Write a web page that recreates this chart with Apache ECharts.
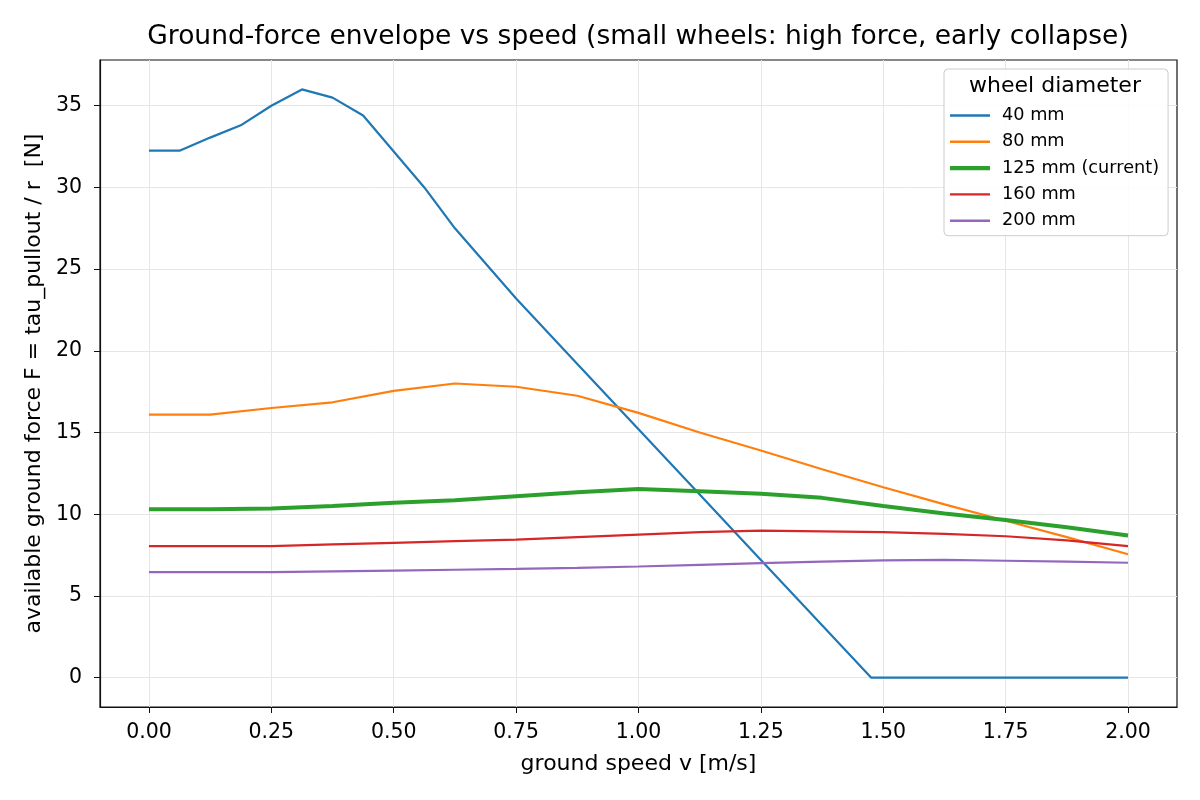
<!DOCTYPE html>
<html>
<head>
<meta charset="utf-8">
<script src="https://cdn.jsdelivr.net/npm/echarts@6/dist/echarts.min.js"></script>
<style>
  html, body { margin: 0; padding: 0; background: #fff; }
  #chart { width: 1200px; height: 800px; }
</style>
</head>
<body>
<div id="chart"></div>
<script>
// ---- data ----
var seriesNames = ['40 mm', '80 mm', '125 mm (current)', '160 mm', '200 mm'];

// 40 mm wheel has its own (finer) sampling
var speed40 = [0, 0.0625, 0.125, 0.1875, 0.25, 0.3125, 0.375, 0.4375, 0.5, 0.5625, 0.625, 0.75, 0.875, 1.0, 1.125, 1.25, 1.375, 1.475, 1.625, 1.75, 1.875, 2.0];
var force40 = [32.25, 32.25, 33.05, 33.8, 35.0, 36.0, 35.5, 34.4, 32.2, 30.0, 27.5, 23.2, 19.2, 15.2, 11.2, 7.2, 3.2, 0, 0, 0, 0, 0];

// shared grid for the other wheels
var speedGrid = [0, 0.125, 0.25, 0.375, 0.5, 0.625, 0.75, 0.875, 1.0, 1.125, 1.25, 1.375, 1.5, 1.625, 1.75, 1.875, 2.0];
var force80  = [16.1, 16.1, 16.5, 16.85, 17.55, 18.0, 17.8, 17.25, 16.2, 15.0, 13.9, 12.75, 11.65, 10.6, 9.6, 8.6, 7.55];
var force125 = [10.3, 10.3, 10.35, 10.5, 10.7, 10.85, 11.1, 11.35, 11.55, 11.4, 11.25, 11.0, 10.5, 10.05, 9.65, 9.2, 8.7];
var force160 = [8.05, 8.05, 8.05, 8.15, 8.25, 8.35, 8.45, 8.6, 8.75, 8.9, 9.0, 8.95, 8.9, 8.8, 8.65, 8.4, 8.05];
var force200 = [6.45, 6.45, 6.45, 6.5, 6.55, 6.6, 6.65, 6.72, 6.8, 6.9, 7.0, 7.1, 7.17, 7.2, 7.15, 7.1, 7.03];

var xTicks = [0, 0.25, 0.5, 0.75, 1.0, 1.25, 1.5, 1.75, 2.0];
var yTicks = [0, 5, 10, 15, 20, 25, 30, 35];

var colors = ['#1f77b4', '#ff7f0e', '#2ca02c', '#d62728', '#9467bd'];
var widths = [2.2, 2.2, 4, 2.2, 2.2];

function pairs(xs, ys) {
  var out = [];
  for (var i = 0; i < xs.length; i++) out.push([xs[i], ys[i]]);
  return out;
}

// legend sample: a plain horizontal stroke of the series' width, in a 40x18 box
function lineIcon(w) {
  var a = 9 - w / 2, b = 9 + w / 2;
  return 'path://M0,0L0,0M0,' + a + 'L40,' + a + 'L40,' + b + 'L0,' + b + 'ZM40,18L40,18';
}

var allData = [
  pairs(speed40, force40),
  pairs(speedGrid, force80),
  pairs(speedGrid, force125),
  pairs(speedGrid, force160),
  pairs(speedGrid, force200)
];

var series = [];
var legendData = [];
for (var k = 0; k < seriesNames.length; k++) {
  series.push({
    name: seriesNames[k],
    type: 'line',
    data: allData[k],
    symbol: 'none',
    showSymbol: false,
    animation: false,
    color: colors[k],
    lineStyle: { color: colors[k], width: widths[k] },
    z: 3
  });
  legendData.push({ name: seriesNames[k], icon: lineIcon(widths[k] + 0.2) });
}

var font = 'DejaVu Sans';
var chart = echarts.init(document.getElementById('chart'));
var option = {
  animation: false,
  textStyle: { fontFamily: font },
  grid: {
    left: 100, right: 23, top: 60, bottom: 93,
    show: true, borderColor: '#111', borderWidth: 1.2, backgroundColor: 'transparent'
  },
  graphic: [
    {
      type: 'text', x: 638, y: 37, z: 10,
      style: {
        text: 'Ground-force envelope vs speed (small wheels: high force, early collapse)',
        font: '26.5px DejaVu Sans', fill: '#000',
        align: 'center', verticalAlign: 'middle'
      }
    },
    {
      type: 'text', x: 1055, y: 86, z: 20,
      style: {
        text: 'wheel diameter', font: '22px DejaVu Sans', fill: '#000',
        align: 'center', verticalAlign: 'middle'
      }
    }
  ],
  legend: {
    orient: 'vertical',
    left: 944, top: 69,
    padding: [37.5, 9, 6, 6],
    itemGap: 8.3,
    itemWidth: 40,
    itemHeight: 18,
    backgroundColor: 'rgba(255,255,255,0.85)',
    borderColor: '#cccccc',
    borderWidth: 1,
    borderRadius: 4,
    textStyle: { fontSize: 17.7, color: '#000', fontFamily: font, padding: [0, 0, 0, 7] },
    data: legendData
  },
  xAxis: {
    type: 'value',
    min: -0.1, max: 2.1,
    name: 'ground speed v [m/s]',
    nameLocation: 'middle',
    nameGap: 46,
    nameTextStyle: { fontSize: 22, color: '#000' },
    axisLine: { show: true, onZero: false, lineStyle: { color: '#111', width: 1.2 } },
    axisTick: { show: true, length: 6, customValues: xTicks, lineStyle: { color: '#111' } },
    axisLabel: {
      customValues: xTicks, fontSize: 20.5, color: '#000', margin: 15,
      formatter: function (v) { return v.toFixed(2); }
    },
    splitLine: { show: true, lineStyle: { color: '#e6e6e6', width: 1 } }
  },
  yAxis: {
    type: 'value',
    min: -1.8, max: 37.8,
    name: 'available ground force F = tau_pullout / r  [N]',
    nameLocation: 'middle',
    nameGap: 50,
    nameTextStyle: { fontSize: 22, color: '#000' },
    axisLine: { show: true, onZero: false, lineStyle: { color: '#111', width: 1.2 } },
    axisTick: { show: true, length: 6, customValues: yTicks, lineStyle: { color: '#111' } },
    axisLabel: { customValues: yTicks, fontSize: 20.5, color: '#000', margin: 18 },
    splitLine: { show: true, lineStyle: { color: '#e6e6e6', width: 1 } }
  },
  series: series
};
chart.setOption(option);
</script>
</body>
</html>
